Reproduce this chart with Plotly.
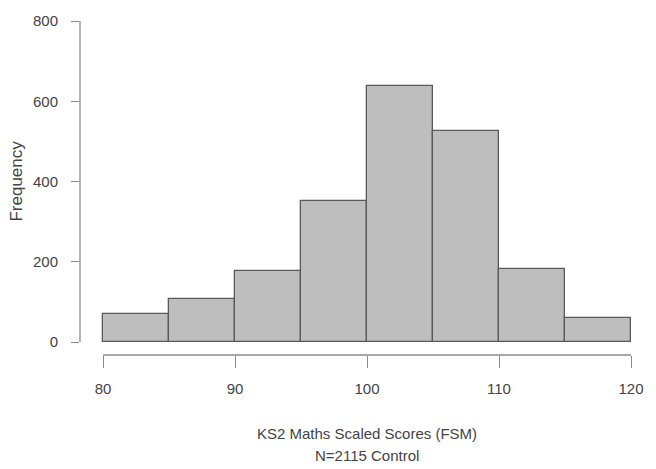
import plotly.graph_objects as go

bin_edges = [80, 85, 90, 95, 100, 105, 110, 115, 120]
frequencies = [70, 108, 178, 352, 637, 526, 183, 61]
x_ticks = [80, 90, 100, 110, 120]
y_ticks = [0, 200, 400, 600, 800]
x_title_line1 = "KS2 Maths Scaled Scores (FSM)"
x_title_line2 = "N=2115 Control"
y_title = "Frequency"

centers = [(a + b) / 2 for a, b in zip(bin_edges[:-1], bin_edges[1:])]
widths = [b - a for a, b in zip(bin_edges[:-1], bin_edges[1:])]

W, H = 656, 469
ml, mr, mt, mb = 80, 25, 19, 114
plot_h = H - mt - mb
plot_w = W - ml - mr

font = dict(family="Liberation Sans, Arial, sans-serif", size=15, color="#444444")
axis_color = "#8a8a8a"

fig = go.Figure()
fig.add_trace(go.Bar(
    x=centers, y=frequencies, width=widths,
    marker=dict(color="#bebebe", line=dict(color="#5a5a5a", width=1.3)),
    hoverinfo="x+y",
))

fig.update_layout(
    width=W, height=H,
    margin=dict(l=ml, r=mr, t=mt, b=mb, pad=0),
    paper_bgcolor="white", plot_bgcolor="white",
    font=font, showlegend=False, bargap=0,
    xaxis=dict(
        range=[80 - 23 / 13.2, 120], tickvals=x_ticks, ticktext=[str(v) for v in x_ticks],
        ticks="outside", ticklen=12, tickwidth=1.3, tickcolor=axis_color,
        showline=False, showgrid=False, zeroline=False, ticklabelstandoff=8,
    ),
    yaxis=dict(
        range=[-13 / 0.40375, 800], tickvals=y_ticks, ticktext=[str(v) for v in y_ticks],
        ticks="outside", ticklen=8, tickwidth=1.3, tickcolor=axis_color,
        showline=False, showgrid=False, zeroline=False, ticklabelstandoff=10,
    ),
)

# R-style axis lines spanning only the tick range
fig.add_shape(type="line", xref="x", yref="paper", x0=x_ticks[0], x1=x_ticks[-1], y0=0, y1=0,
              line=dict(color=axis_color, width=1.3))
fig.add_shape(type="line", xref="paper", yref="y", x0=0, x1=0, y0=y_ticks[0], y1=y_ticks[-1],
              line=dict(color=axis_color, width=1.3))

fig.add_annotation(text=x_title_line1, xref="x", yref="paper", x=100, y=(355 - 434) / plot_h,
                   showarrow=False, yanchor="middle", font=font)
fig.add_annotation(text=x_title_line2, xref="x", yref="paper", x=100, y=(355 - 456) / plot_h,
                   showarrow=False, yanchor="middle", font=font)
fig.add_annotation(text=y_title, xref="paper", yref="y", x=(17 - ml) / plot_w, y=400,
                   textangle=-90, showarrow=False, xanchor="center", yanchor="middle",
                   font=dict(family=font["family"], size=17, color=font["color"]))

fig.write_html("out.html", config={"displayModeBar": False},
               post_script="document.body.style.margin='0';")
